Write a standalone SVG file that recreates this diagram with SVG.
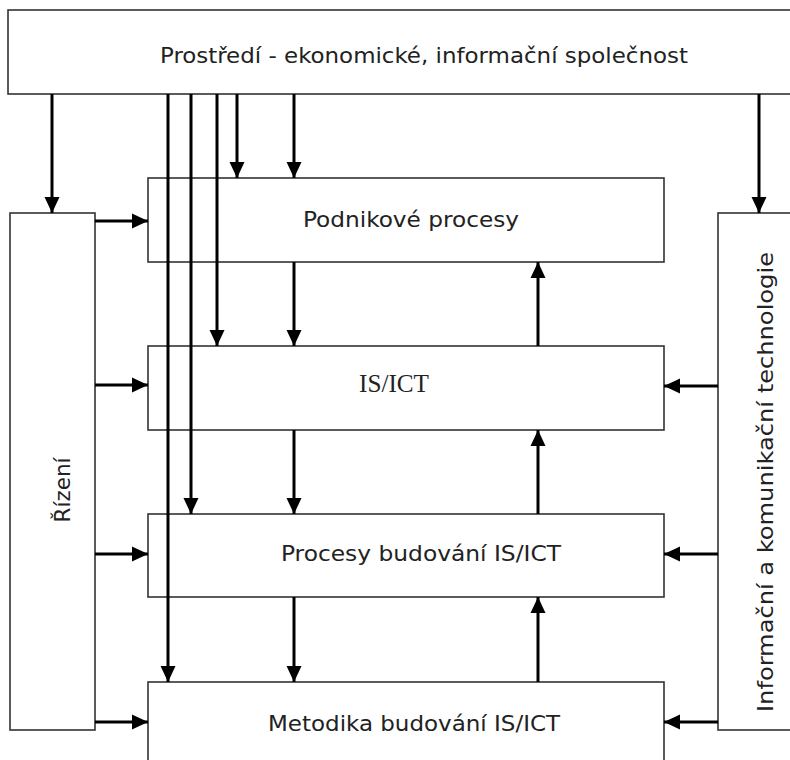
<svg xmlns="http://www.w3.org/2000/svg" width="790" height="760" viewBox="0 0 790 760">
<defs>
<style>
.box{fill:#fff;stroke:#333;stroke-width:1.6}
.lbl{font-family:"DejaVu Sans Condensed","DejaVu Sans",sans-serif;font-size:22px;fill:#222;text-anchor:middle}
.ser{font-family:"Liberation Serif","DejaVu Serif",serif;font-size:25px;fill:#222;text-anchor:middle}
.ar{stroke:#000;stroke-width:3;fill:none;marker-end:url(#ah)}
</style>
<marker id="ah" markerUnits="userSpaceOnUse" markerWidth="17" markerHeight="16" refX="16" refY="7.5" orient="auto" viewBox="0 0 17 15">
<path d="M0,0 L16,7.5 L0,15 z" fill="#000"/>
</marker>
</defs>
<rect width="790" height="760" fill="#fff"/>
<g id="prostredi">
<rect class="box" x="8" y="10" width="800" height="84"/>
<text class="lbl" x="424" y="63" textLength="528" lengthAdjust="spacingAndGlyphs">Prostředí - ekonomické, informační společnost</text>
</g>
<g id="rizeni">
<rect class="box" x="10" y="213" width="85" height="517"/>
<text class="lbl" transform="translate(70,490) rotate(-90)" textLength="65" lengthAdjust="spacingAndGlyphs">Řízení</text>
</g>
<g id="ict">
<rect class="box" x="718" y="213" width="100" height="517"/>
<text class="lbl" transform="translate(773,482) rotate(-90)" textLength="460" lengthAdjust="spacingAndGlyphs">Informační a komunikační technologie</text>
</g>
<g id="podnikove">
<rect class="box" x="148" y="178" width="516" height="84"/>
<text class="lbl" x="411" y="227" textLength="216" lengthAdjust="spacingAndGlyphs">Podnikové procesy</text>
</g>
<g id="isict">
<rect class="box" x="148" y="346" width="516" height="84"/>
<text class="ser" x="394" y="392" textLength="70" lengthAdjust="spacingAndGlyphs">IS/ICT</text>
</g>
<g id="procesy">
<rect class="box" x="148" y="514" width="516" height="83"/>
<text class="lbl" x="421" y="561" textLength="280" lengthAdjust="spacingAndGlyphs">Procesy budování IS/ICT</text>
</g>
<g id="metodika">
<rect class="box" x="148" y="682" width="516" height="100"/>
<text class="lbl" x="414" y="731" textLength="292" lengthAdjust="spacingAndGlyphs">Metodika budování IS/ICT</text>
</g>
<g id="connectors">
<line class="ar" x1="52" y1="94" x2="52" y2="213"/>
<line class="ar" x1="168" y1="94" x2="168" y2="682"/>
<line class="ar" x1="191" y1="94" x2="191" y2="514"/>
<line class="ar" x1="217" y1="94" x2="217" y2="346"/>
<line class="ar" x1="237" y1="94" x2="237" y2="178"/>
<line class="ar" x1="294" y1="94" x2="294" y2="178"/>
<line class="ar" x1="294" y1="262" x2="294" y2="346"/>
<line class="ar" x1="294" y1="430" x2="294" y2="514"/>
<line class="ar" x1="294" y1="597" x2="294" y2="682"/>
<line class="ar" x1="538" y1="346" x2="538" y2="262"/>
<line class="ar" x1="538" y1="514" x2="538" y2="430"/>
<line class="ar" x1="538" y1="682" x2="538" y2="597"/>
<line class="ar" x1="759" y1="94" x2="759" y2="213"/>
<line class="ar" x1="95" y1="221" x2="148" y2="221"/>
<line class="ar" x1="95" y1="385" x2="148" y2="385"/>
<line class="ar" x1="95" y1="554" x2="148" y2="554"/>
<line class="ar" x1="95" y1="722" x2="148" y2="722"/>
<line class="ar" x1="718" y1="386" x2="664" y2="386"/>
<line class="ar" x1="718" y1="554" x2="664" y2="554"/>
<line class="ar" x1="718" y1="722" x2="664" y2="722"/>
</g>
</svg>
